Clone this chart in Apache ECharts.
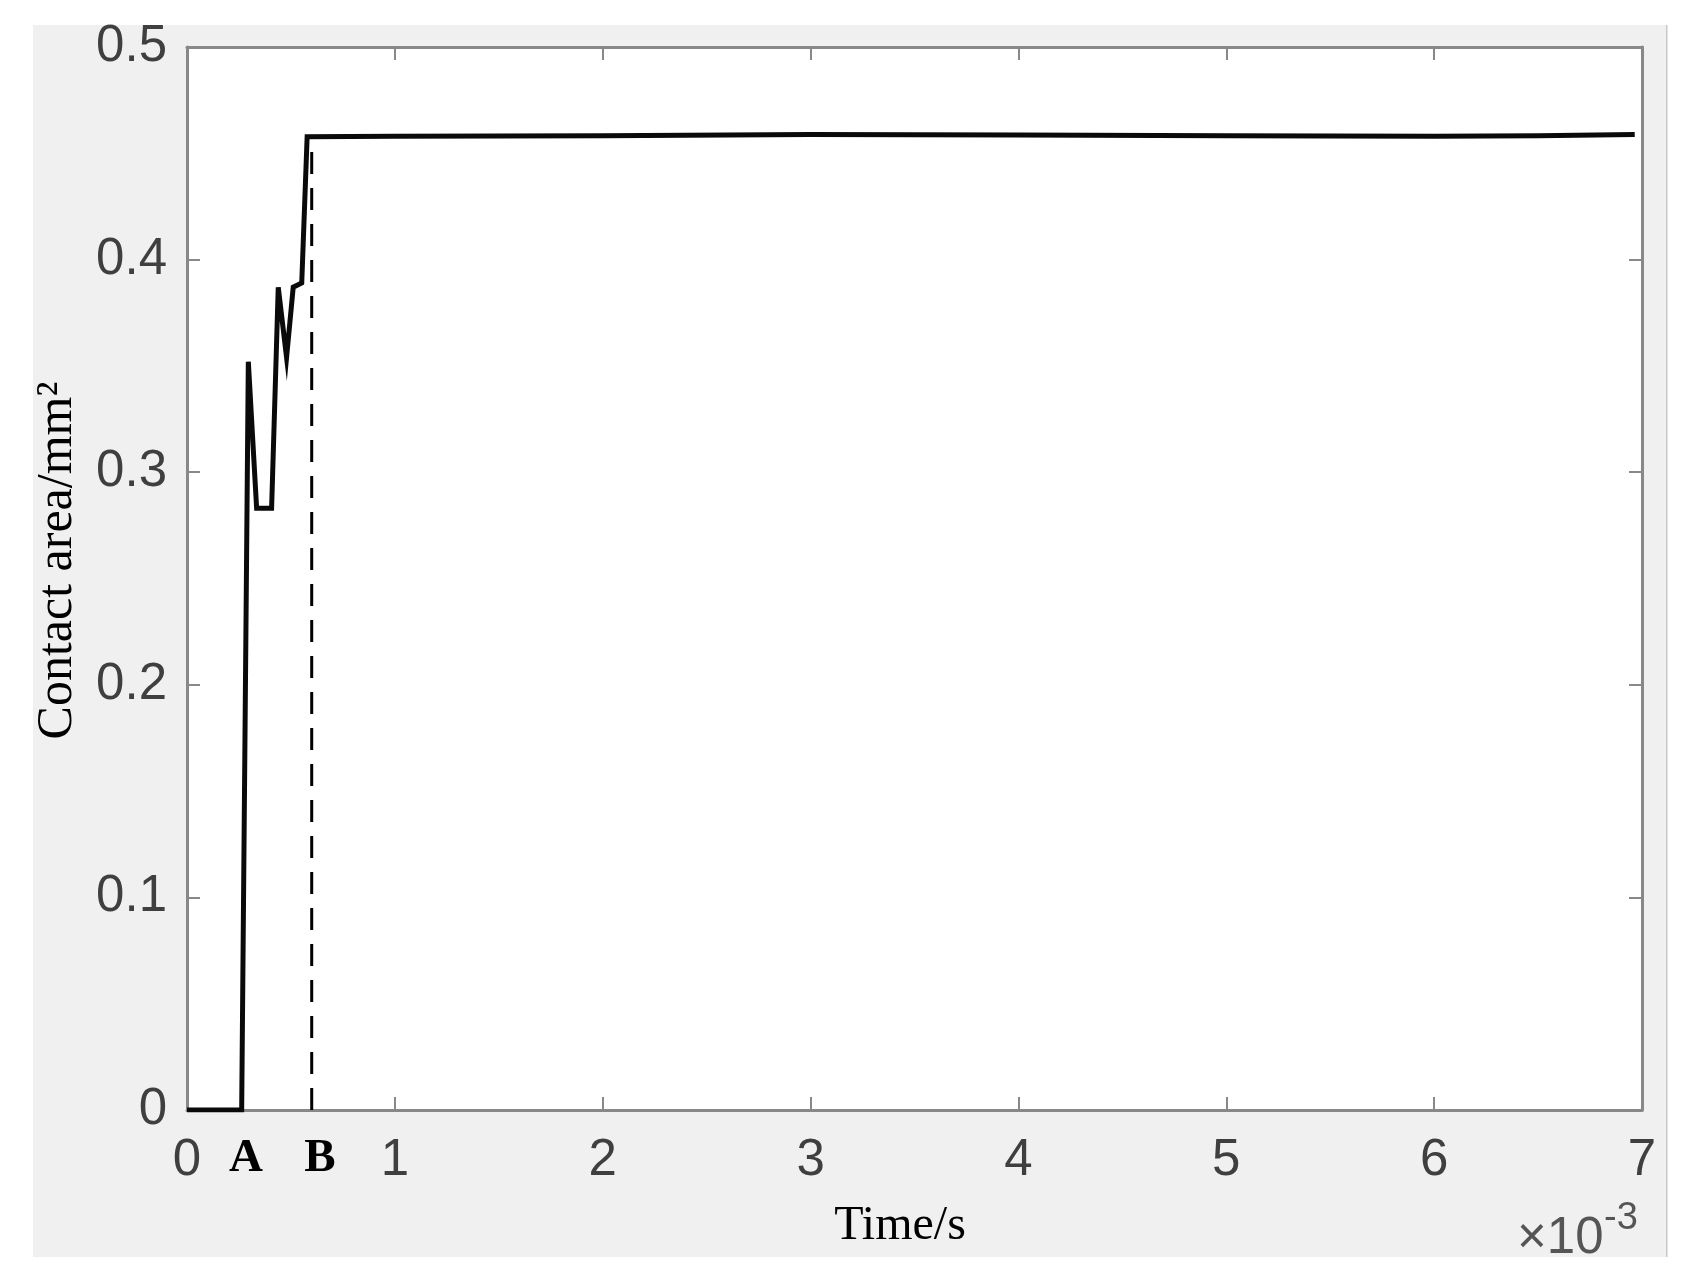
<!DOCTYPE html>
<html>
<head>
<meta charset="utf-8">
<script src="https://cdn.jsdelivr.net/npm/echarts@6/dist/echarts.min.js"></script>
<style>
html,body{margin:0;padding:0;background:#fff;}
#chart{width:1691px;height:1282px;}
</style>
</head>
<body>
<div id="chart"></div>
<script>
// Time in units of 1e-3 s, contact area in mm^2
const timeMs = [0, 0.263, 0.295, 0.335, 0.407, 0.439, 0.479, 0.511, 0.552, 0.578, 1, 2, 3, 4, 5, 6, 6.5, 6.965];
const areaMm2 = [0, 0, 0.352, 0.283, 0.283, 0.387, 0.354, 0.387, 0.389, 0.4578, 0.458, 0.4583, 0.4588, 0.4586, 0.4583, 0.458, 0.4582, 0.4589];
// dashed marker line at point B
const dashTime = [0.6, 0.6];
const dashArea = [0, 0.455];
// stage markers on the time axis
const markerTimes = [0.284, 0.64];
const markerLabels = ['A', 'B'];
const xTickValues = [0, 1, 2, 3, 4, 5, 6, 7];
const yTickValues = [0, 0.1, 0.2, 0.3, 0.4, 0.5];
const xTitle = 'Time/s';
const yTitle = 'Contact area/mm\u00B2';

const mainData = timeMs.map((t, i) => [t, areaMm2[i]]);
const dashData = dashTime.map((t, i) => [t, dashArea[i]]);

const axisGray = '#888888';
const labelGray = '#3f3f3f';
const sans = 'Liberation Sans, Arial, sans-serif';
const serif = 'Liberation Serif, Times New Roman, serif';

const chart = echarts.init(document.getElementById('chart'));
chart.setOption({
  animation: false,
  backgroundColor: '#ffffff',
  graphic: [
    { type: 'rect', z: -10, shape: { x: 33, y: 25, width: 1633, height: 1232 }, style: { fill: '#f0f0f0' } },
    { type: 'rect', z: -10, shape: { x: 1666, y: 25, width: 1.5, height: 1232 }, style: { fill: '#c8c8c8' } },
    { type: 'text', left: 1517, top: 1213, style: { text: '\u00D710', font: '51px ' + sans, fill: '#555555' } },
    { type: 'text', left: 1604, top: 1200, style: { text: '-3', font: '38px ' + sans, fill: '#555555' } }
  ],
  grid: { left: 187, top: 47, width: 1455, height: 1063, show: true, backgroundColor: '#ffffff', borderWidth: 0 },
  xAxis: [
    {
      type: 'value', min: xTickValues[0], max: xTickValues[xTickValues.length - 1], interval: 1,
      position: 'bottom',
      axisLine: { show: true, onZero: false, lineStyle: { color: axisGray, width: 3 } },
      axisTick: { show: true, inside: true, length: 13, lineStyle: { color: axisGray, width: 2 } },
      axisLabel: { margin: 25, fontSize: 51, color: labelGray, fontFamily: sans },
      splitLine: { show: false },
      name: xTitle, nameLocation: 'middle', nameGap: 92,
      nameTextStyle: { fontFamily: serif, fontSize: 48, color: '#000', padding: [0, 29, 0, 0] }
    },
    {
      type: 'value', min: xTickValues[0], max: xTickValues[xTickValues.length - 1],
      position: 'bottom',
      axisLine: { show: false, onZero: false },
      axisTick: { show: false },
      splitLine: { show: false },
      axisLabel: {
        customValues: markerTimes,
        margin: 25,
        fontSize: 47, fontWeight: 'bold', color: '#000', fontFamily: serif,
        formatter: function (v) {
          let idx = 0, best = Infinity;
          markerTimes.forEach((m, i) => { const d = Math.abs(m - v); if (d < best) { best = d; idx = i; } });
          return markerLabels[idx];
        }
      }
    },
    {
      type: 'value', min: xTickValues[0], max: xTickValues[xTickValues.length - 1], interval: 1,
      position: 'top',
      axisLine: { show: true, onZero: false, lineStyle: { color: axisGray, width: 3 } },
      axisTick: { show: true, inside: true, length: 13, lineStyle: { color: axisGray, width: 2 } },
      axisLabel: { show: false },
      splitLine: { show: false }
    }
  ],
  yAxis: [
    {
      type: 'value', min: yTickValues[0], max: yTickValues[yTickValues.length - 1], interval: 0.1,
      position: 'left',
      axisLine: { show: true, onZero: false, lineStyle: { color: axisGray, width: 3 } },
      axisTick: { show: true, inside: true, length: 13, lineStyle: { color: axisGray, width: 2 } },
      axisLabel: { margin: 20, fontSize: 51, color: labelGray, fontFamily: sans },
      splitLine: { show: false },
      name: yTitle, nameLocation: 'middle', nameGap: 104, nameRotate: 90,
      nameTextStyle: { fontFamily: serif, fontSize: 50, color: '#000', padding: [0, 0, 0, 36] }
    },
    {
      type: 'value', min: yTickValues[0], max: yTickValues[yTickValues.length - 1], interval: 0.1,
      position: 'right',
      axisLine: { show: true, onZero: false, lineStyle: { color: axisGray, width: 3 } },
      axisTick: { show: true, inside: true, length: 13, lineStyle: { color: axisGray, width: 2 } },
      axisLabel: { show: false },
      splitLine: { show: false }
    }
  ],
  series: [
    {
      type: 'line', xAxisIndex: 0, yAxisIndex: 0, data: dashData,
      showSymbol: false, silent: true, z: 3,
      lineStyle: { color: '#000', width: 3, type: [22, 14] }
    },
    {
      type: 'line', xAxisIndex: 0, yAxisIndex: 0, data: mainData,
      showSymbol: false, silent: true, z: 4,
      lineStyle: { color: '#0a0a0a', width: 5, join: 'miter' }
    }
  ]
});
</script>
</body>
</html>
